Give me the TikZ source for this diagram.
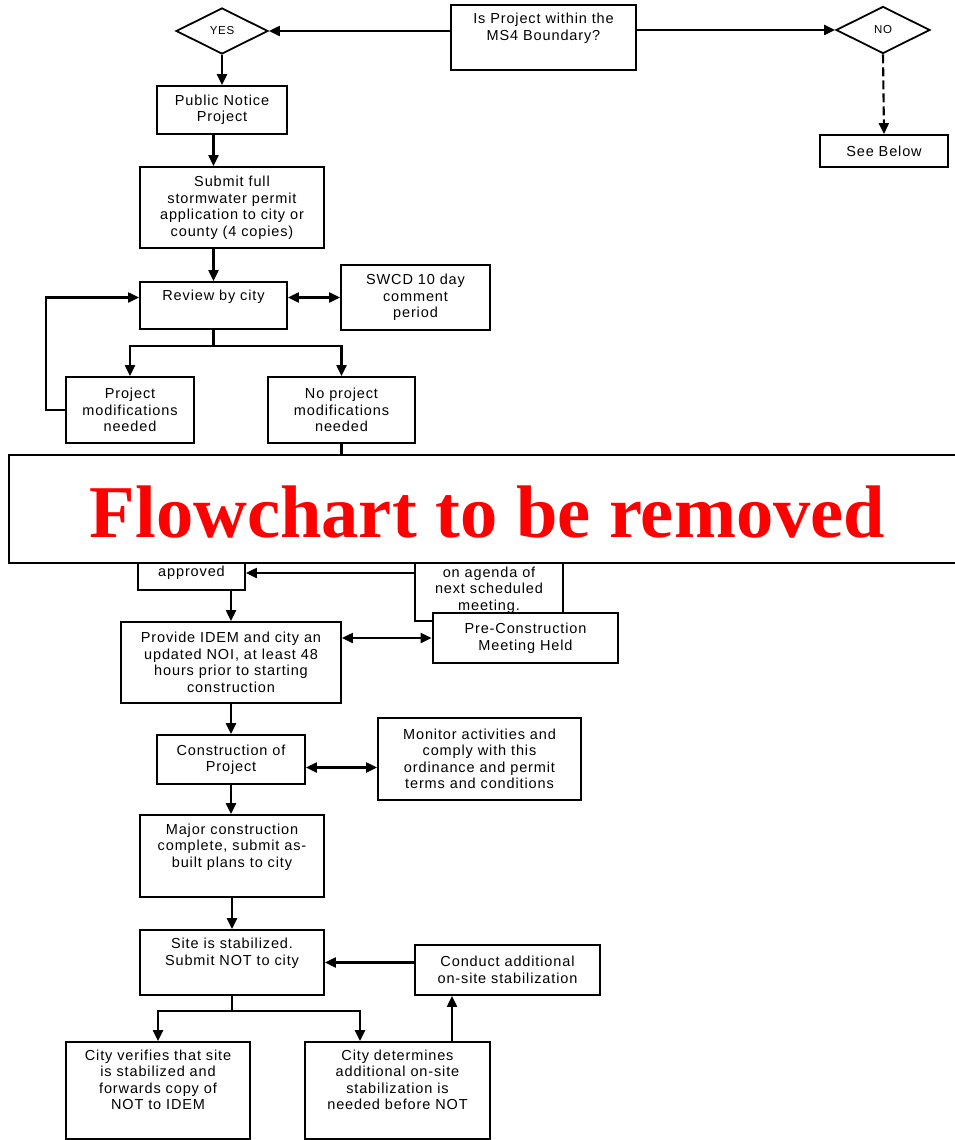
\documentclass[tikz,border=0pt]{standalone}
\usepackage{fontspec}
\setmainfont{Liberation Sans}[LetterSpace=6]
\newfontfamily\bannerfont{Liberation Serif}
\usetikzlibrary{shapes.geometric,arrows.meta}

\begin{document}
\begin{tikzpicture}[x=1pt,y=-1pt,
box/.style ={rectangle, draw, line width=1.8pt, fill=white,
  align=center, inner sep=0pt, font=\fontsize{14.5}{16.5}\selectfont
},
decision/.style ={diamond, draw, line width=1.8pt, fill=white,
  inner sep=0pt, font=\fontsize{11.5}{13}\selectfont
},
flow/.style ={line width=2.1pt, -{Triangle[length=11pt,width=10pt]}},
both/.style ={line width=2.1pt, {Triangle[length=11pt,width=10pt]}-{Triangle[length=11pt,width=10pt]}},
link/.style ={line width=2.1pt}]
\useasboundingbox (0,0) rectangle (954,1140);
\node (yes) at (222,31) [decision, minimum width=92pt, minimum height=46pt] {YES};
\node (question) at (543.5,37.5) [box, minimum width=185pt, minimum height=65pt] {Is Project within the\\MS4 Boundary?\\ \strut};
\node (no) at (883,30) [decision, minimum width=94pt, minimum height=47pt] {NO};
\node (seebelow) at (884,151) [box, minimum width=128pt, minimum height=32pt] {See Below};
\node (notice) at (222,110) [box, minimum width=130pt, minimum height=48pt] {Public Notice\\Project};
\node (submit) at (232,207.5) [box, minimum width=184pt, minimum height=81pt] {Submit full\\stormwater permit\\application to city or\\county (4 copies)};
\node (review) at (213.5,305.5) [box, minimum width=147pt, minimum height=47pt] {Review by city\\ \strut};
\node (swcd) at (415.5,297.5) [box, minimum width=149pt, minimum height=65pt] {SWCD 10 day\\comment\\period};
\node (projmod) at (130,410) [box, minimum width=128pt, minimum height=66pt] {Project\\modifications\\needed};
\node (noproj) at (341.5,410) [box, minimum width=147pt, minimum height=66pt] {No project\\modifications\\needed};
\node (approved) at (191.5,573) [box, minimum width=107pt, minimum height=34pt] {approved};
\node (agenda) at (489,590) [box, line width=1.2pt, minimum width=148pt, minimum height=62pt] {on agenda of\\next scheduled\\meeting.};
\node (preconst) at (525.5,638) [box, line width=2.8pt, minimum width=185pt, minimum height=50pt] {Pre-Construction\\Meeting Held};
\node (provide) at (231,662.5) [box, minimum width=220pt, minimum height=81pt] {Provide IDEM and city an\\updated NOI, at least 48\\hours prior to starting\\construction};
\node (constr) at (231,759.5) [box, minimum width=148pt, minimum height=49pt] {Construction of\\Project};
\node (monitor) at (479.5,759) [box, minimum width=203pt, minimum height=82pt] {Monitor activities and\\comply with this\\ordinance and permit\\terms and conditions};
\node (major) at (232,856) [box, minimum width=184pt, minimum height=82pt] {Major construction\\complete, submit as-\\built plans to city\\ \strut};
\node (site) at (232,962.5) [box, minimum width=184pt, minimum height=65pt] {Site is stabilized.\\Submit NOT to city\\ \strut};
\node (conduct) at (507.5,970) [box, minimum width=185pt, minimum height=50pt] {Conduct additional\\on-site stabilization};
\node (verifies) at (158,1090.5) [box, minimum width=184pt, minimum height=97pt] {City verifies that site\\is stabilized and\\forwards copy of\\NOT to IDEM\\ \strut};
\node (determines) at (397.5,1090.5) [box, minimum width=185pt, minimum height=97pt] {City determines\\additional on-site\\stabilization is\\needed before NOT\\ \strut};
\draw[flow] (question.west |- yes) -- (yes.east);
\draw[flow] (question.east |- no) -- (no.west);
\draw[flow, dash pattern=on 9pt off 4pt] (no.south) -- (seebelow.north);
\draw[flow, line width=2.8pt] (yes.south) -- (notice.north);
\draw[flow] (review.north |- notice.south) -- (review.north |- submit.north);
\draw[flow] (review.north |- submit.south) -- (review.north);
\draw[both] (review.east |- swcd) -- (swcd.west);
\draw[flow] (review.south) -- ++(0,16) -| (projmod.north);
\draw[flow] (review.south) -- ++(0,16) -| (noproj.north);
\draw[flow] (projmod.west) -- ++(-19,0) |- (review.west |- swcd);
\draw[link] (noproj.south) -- ++(0,20);
\draw[flow] (agenda.west |- approved) -- (approved.east);
\draw[flow] (provide.north |- approved.south) -- (provide.north);
\draw[both] (provide.east |- preconst) -- (preconst.west);
\draw[flow] (provide.south) -- (constr.north);
\draw[both] ([yshift=-8pt]constr.east) -- ([yshift=-8pt]constr.east -| monitor.west);
\draw[flow] (constr.south) -- (constr.south |- major.north);
\draw[flow] (major.south) -- (site.north);
\draw[flow] (conduct.west |- site) -- (site.east);
\draw[flow] (site.south) -- ++(0,15) -| (verifies.north);
\draw[flow] (site.south) -- ++(0,15) -| ([xshift=-37.5pt]determines.north);
\draw[flow] ([xshift=54.5pt]determines.north) -- ([xshift=54.5pt]determines.north |- conduct.south);
\node (banner) at (487.5,509) [draw, line width=1.8pt, fill=white, minimum width=957pt, minimum height=108pt] {};
\node (bannertext) at (487.5,512) [text=red, font=\bannerfont\bfseries\fontsize{74.5}{80}\selectfont] {Flowchart to be removed};
\end{tikzpicture}
\end{document}
